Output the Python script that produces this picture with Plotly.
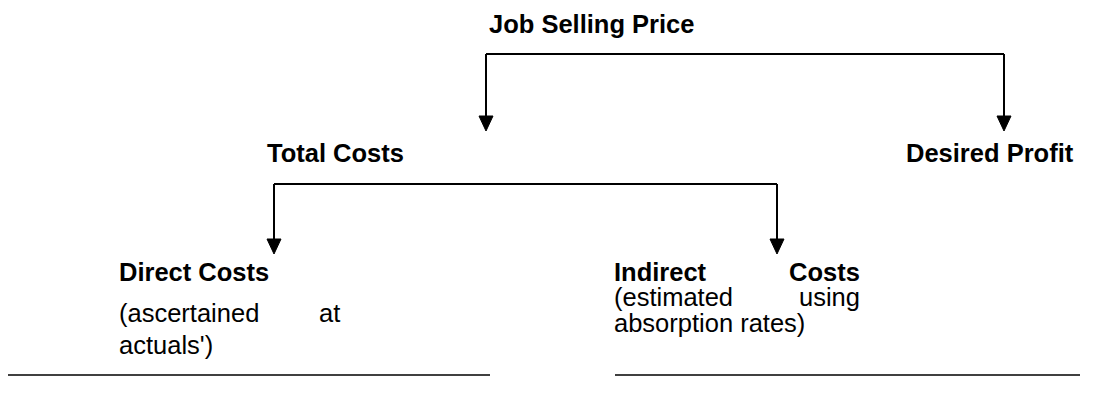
import plotly.graph_objects as go

# ---- Diagram content -------------------------------------------------------
# Bold node headings
heading_labels = ["Job Selling Price", "Total Costs", "Desired Profit",
                  "Direct Costs", "Indirect", "Costs"]
# Regular descriptive text fragments (justified paragraphs split into words)
note_labels = ["(ascertained", "at", "actuals')",
               "(estimated", "using", "absorption rates)"]

# ---- Layout (pixel space, y grows downward) --------------------------------
W, H = 1101, 401
heading_x = [480, 258, 897, 110, 605, 853]
heading_y = [16, 145, 145, 264, 264, 264]
heading_anchor = ["left", "left", "left", "left", "left", "right"]

note_x = [110, 333, 110, 605, 853, 605]
note_y = [305, 305, 337, 289, 289, 315]
note_anchor = ["left", "right", "left", "left", "right", "left"]

# connectors: (bar y, bar x-start, bar x-end, child xs, arrow tip y)
connectors = [
    (46, 478, 996, [478, 996], 123),
    (176, 266, 769, [266, 769], 246),
]
# bottom rule lines: (y, x0, x1)
rules = [(367, 0, 482), (367, 607, 1072)]

FONT = "Liberation Sans, Arial, Helvetica, sans-serif"
FS = 25.5
HEAD_W, HEAD_H = 7, 15

fig = go.Figure()

def add_line(xs, ys, w=2):
    fig.add_trace(go.Scatter(x=xs, y=ys, mode="lines",
                             line=dict(color="black", width=w),
                             hoverinfo="skip", showlegend=False))

for bar_y, bx0, bx1, kids, tip in connectors:
    add_line([bx0, bx1], [bar_y, bar_y])
    for kx in kids:
        add_line([kx, kx], [bar_y, tip - HEAD_H + 1])
        fig.add_trace(go.Scatter(
            x=[kx - HEAD_W, kx + HEAD_W, kx, kx - HEAD_W],
            y=[tip - HEAD_H, tip - HEAD_H, tip, tip - HEAD_H],
            mode="lines", fill="toself", fillcolor="black",
            line=dict(color="black", width=1),
            hoverinfo="skip", showlegend=False))

for ry, rx0, rx1 in rules:
    add_line([rx0, rx1], [ry, ry], w=1.6)

for t, x, y, a in zip(heading_labels, heading_x, heading_y, heading_anchor):
    fig.add_annotation(x=x, y=y, text="<b>" + t + "</b>", showarrow=False,
                       xanchor=a, yanchor="middle", borderpad=0,
                       font=dict(family=FONT, size=FS, color="black"))

for t, x, y, a in zip(note_labels, note_x, note_y, note_anchor):
    fig.add_annotation(x=x, y=y, text=t, showarrow=False,
                       xanchor=a, yanchor="middle", borderpad=0,
                       font=dict(family=FONT, size=FS, color="black"))

fig.update_layout(
    width=W, height=H,
    margin=dict(l=0, r=0, t=0, b=0),
    paper_bgcolor="white", plot_bgcolor="white",
    xaxis=dict(range=[0, W], visible=False, fixedrange=True),
    yaxis=dict(range=[H, 0], visible=False, fixedrange=True),
    showlegend=False,
)

fig.write_html("out.html")
